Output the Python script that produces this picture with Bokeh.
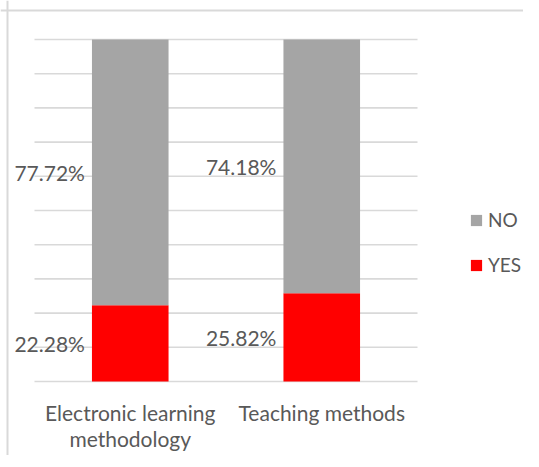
from bokeh.plotting import figure
from bokeh.models import ColumnDataSource, LabelSet, Legend, LegendItem, Range1d, Span
from bokeh.embed import file_html
from bokeh.resources import INLINE

categories = ["Electronic learning methodology", "Teaching methods"]
category_labels = ["Electronic learning\nmethodology", "Teaching methods"]
yes_vals = [0.2228, 0.2582]
no_vals = [0.7772, 0.7418]
series = ["YES", "NO"]
colors = ["#ff0000", "#a5a5a5"]
grid_ticks = [i / 10 for i in range(11)]

FONT = "Lato"
TXT = "#595959"
GRID = "#d9d9d9"
BAR_W = 0.4

xpos = [i + 0.5 for i in range(len(categories))]
src = ColumnDataSource(dict(x=xpos, cat=categories, YES=yes_vals, NO=no_vals))

W, H = 523, 455
# plot area layout (canvas pixels): categories span px 34..417, values 0..1 span px 381..39
PX_L, PX_R, PX_T, PX_B = 34, 417, 39, 381
ux = (PX_R - PX_L) / len(categories)
uy = (PX_B - PX_T) / 1.0
x_range = Range1d(-PX_L / ux, len(categories) + (W - PX_R) / ux)
y_range = Range1d(-(H - PX_B) / uy, 1 + PX_T / uy)

p = figure(x_range=x_range, y_range=y_range, width=W, height=H,
           output_backend="svg", toolbar_location=None,
           min_border=0, min_border_left=0, min_border_right=0,
           min_border_top=0, min_border_bottom=0)
p.outline_line_color = None
p.background_fill_color = "white"
p.border_fill_color = "white"
p.axis.visible = False
p.grid.visible = False

# gridlines spanning the category extent
n = len(categories)
p.segment(x0=[0] * len(grid_ticks), x1=[n] * len(grid_ticks), y0=grid_ticks, y1=grid_ticks,
          line_color=GRID, line_width=1.6)

rs = p.vbar_stack(series, x="x", width=BAR_W, source=src, color=colors, line_color=None)

# value labels, left of each bar segment
lab = ColumnDataSource(dict(
    x=[x - BAR_W / 2 for x in xpos] * 2,
    y=[y / 2 for y in yes_vals] + [y + v / 2 for y, v in zip(yes_vals, no_vals)],
    t=[f"{v*100:.2f}%" for v in yes_vals] + [f"{v*100:.2f}%" for v in no_vals]))
p.add_layout(LabelSet(x="x", y="y", text="t", source=lab, x_offset=-7,
                      text_align="right", text_baseline="middle",
                      text_font={"value": FONT}, text_font_size={"value": "21px"},
                      text_color=TXT))

# category labels, one row per text line so every line is centred
LINE_STEP = 26
cx, cy, ct, coff = [], [], [], []
for x, label in zip(xpos, category_labels):
    for k, line in enumerate(label.split("\n")):
        cx.append(x)
        cy.append(0)
        ct.append(line)
        coff.append(-18 - LINE_STEP * k)
cl = ColumnDataSource(dict(x=cx, y=cy, t=ct, off=coff))
p.add_layout(LabelSet(x="x", y="y", text="t", source=cl, y_offset="off",
                      text_align="center", text_baseline="top",
                      text_font={"value": FONT}, text_font_size={"value": "21px"},
                      text_color=TXT))

# outer chart border (top and left edges), at canvas px x=7, y=10
p.add_layout(Span(location=-(PX_L - 7) / ux, dimension="height",
                  line_color=GRID, line_width=2))
p.add_layout(Span(location=1 + (PX_T - 10) / uy, dimension="width",
                  line_color=GRID, line_width=2))

legend = Legend(items=[LegendItem(label="NO", renderers=[rs[1]]),
                       LegendItem(label="YES", renderers=[rs[0]])],
                location=(469, H - 276), orientation="vertical")
legend.border_line_color = None
legend.background_fill_alpha = 0
legend.padding = 0
legend.margin = 0
legend.glyph_width = 14
legend.glyph_height = 14
legend.label_standoff = 5
legend.spacing = 22
legend.label_text_font = FONT
legend.label_text_font_size = "19px"
legend.label_text_color = TXT
p.add_layout(legend, "center")

open("out.html", "w").write(file_html(p, INLINE))
